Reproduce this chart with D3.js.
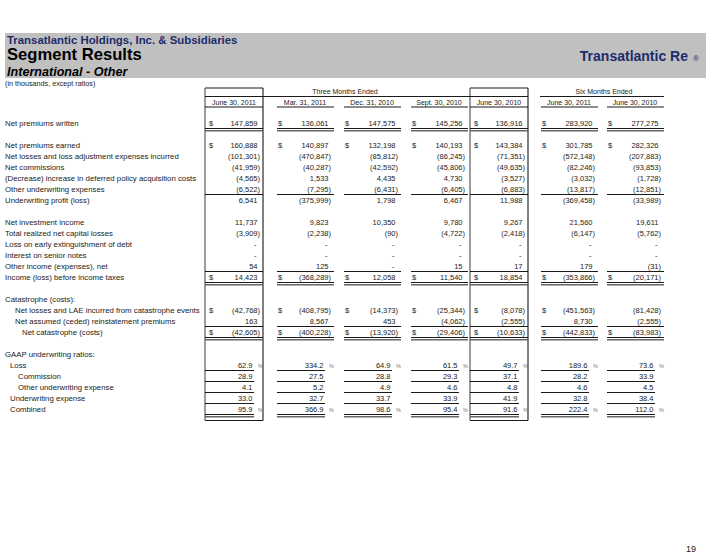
<!DOCTYPE html>
<html><head><meta charset="utf-8">
<script src="https://cdn.jsdelivr.net/npm/d3@7"></script>
<style>body{margin:0;background:#fff}svg{display:block;font-family:"Liberation Sans",Arial,sans-serif}</style>
</head><body><svg id="c" width="720" height="556"></svg>
<script>
// ---------- data ----------
const columnLabels = ["June 30, 2011","Mar. 31, 2011","Dec. 31, 2010","Sept. 30, 2010","June 30, 2010","June 30, 2011","June 30, 2010"];
const groupLabels = ["Three Months Ended","Six Months Ended"];
const rowLabels = [
  "Net premiums written","",
  "Net premiums earned","Net losses and loss adjustment expenses incurred","Net commissions",
  "(Decrease) increase in deferred policy acquisition costs","Other underwriting expenses","Underwriting profit (loss)","",
  "Net investment income","Total realized net capital losses","Loss on early extinguishment of debt",
  "Interest on senior notes","Other income (expenses), net","Income (loss) before income taxes","",
  "Catastrophe (costs):","Net losses and LAE incurred from catastrophe events",
  "Net assumed (ceded) reinstatement premiums","Net catastrophe (costs)","",
  "GAAP underwriting ratios:","Loss","Commission","Other underwriting expense","Underwriting expense","Combined"
];
const netPremiumsWritten   = [147859, 136061, 147575, 145256, 136916, 283920, 277275];
const netPremiumsEarned    = [160888, 140897, 132198, 140193, 143384, 301785, 282326];
const netLossesLAE         = [-101301, -470847, -85812, -86245, -71351, -572148, -207883];
const netCommissions       = [-41959, -40287, -42592, -45806, -49635, -82246, -93853];
const changeDeferredCosts  = [-4565, 1533, 4435, 4730, -3527, -3032, -1728];
const otherUwExpenses      = [-6522, -7295, -6431, -6405, -6883, -13817, -12851];
const underwritingProfit   = [6541, -375999, 1798, 6467, 11988, -369458, -33989];
const netInvestmentIncome  = [11737, 9823, 10350, 9780, 9267, 21560, 19611];
const realizedCapitalLoss  = [-3909, -2238, -90, -4722, -2418, -6147, -5762];
const lossEarlyExtinguish  = [null, null, null, null, null, null, null];
const interestSeniorNotes  = [null, null, null, null, null, null, null];
const otherIncome          = [54, 125, null, 15, 17, 179, -31];
const incomeBeforeTaxes    = [14423, -368289, 12058, 11540, 18854, -353866, -20171];
const catLossesLAE         = [-42768, -408795, -14373, -25344, -8078, -451563, -81428];
const reinstatementPrem    = [163, 8567, 453, -4062, -2555, 8730, -2555];
const netCatastrophe       = [-42605, -400228, -13920, -29406, -10633, -442833, -83983];
const lossRatio            = [62.9, 334.2, 64.9, 61.5, 49.7, 189.6, 73.6];
const commissionRatio      = [28.9, 27.5, 28.8, 29.3, 37.1, 28.2, 33.9];
const otherUwRatio         = [4.1, 5.2, 4.9, 4.6, 4.8, 4.6, 4.5];
const uwExpenseRatio       = [33.0, 32.7, 33.7, 33.9, 41.9, 32.8, 38.4];
const combinedRatio        = [95.9, 366.9, 98.6, 95.4, 91.6, 222.4, 112.0];

// ---------- layout ----------
const ALL = [1,1,1,1,1,1,1];
const rows = [
  {i:0, v:netPremiumsWritten, dollar:ALL, rule:"double"},
  {i:2, v:netPremiumsEarned, dollar:ALL},
  {i:3, v:netLossesLAE},
  {i:4, v:netCommissions},
  {i:5, v:changeDeferredCosts},
  {i:6, v:otherUwExpenses, rule:"single"},
  {i:7, v:underwritingProfit},
  {i:9, v:netInvestmentIncome},
  {i:10, v:realizedCapitalLoss},
  {i:11, v:lossEarlyExtinguish},
  {i:12, v:interestSeniorNotes},
  {i:13, v:otherIncome, rule:"single"},
  {i:14, v:incomeBeforeTaxes, dollar:ALL, rule:"double"},
  {i:16},
  {i:17, v:catLossesLAE, dollar:[1,1,1,1,1,1,0], indent:10},
  {i:18, v:reinstatementPrem, indent:10, rule:"single"},
  {i:19, v:netCatastrophe, dollar:ALL, indent:17, rule:"double"},
  {i:21},
  {i:22, v:lossRatio, ratio:true, pct:true, indent:5, rule:"single"},
  {i:23, v:commissionRatio, ratio:true, indent:13, rule:"single"},
  {i:24, v:otherUwRatio, ratio:true, indent:13, rule:"single"},
  {i:25, v:uwExpenseRatio, ratio:true, indent:5, rule:"single"},
  {i:26, v:combinedRatio, ratio:true, pct:true, indent:5, rule:"double"}
];

const svg = d3.select("#c");
const TEXT = "#222", NAVY = "#1d2b6b";
const LEFT = 5;
const W = 58;                 // column cell width
const boxed = [0, 4];         // columns framed by a box

const x = d3.scaleOrdinal().domain(d3.range(7)).range([205, 276, 343, 410, 470, 540, 606]);
const R = c => x(c) + W - 5.5;         // right edge of figures
const y = d3.scaleLinear().domain([0, 26]).range([126, 412]);

// header band
svg.append("rect").attr("x", LEFT).attr("y", 33).attr("width", 706 - LEFT).attr("height", 45).attr("fill", "#c0c0c0");
svg.append("text").attr("x", LEFT + 2).attr("y", 43.5).attr("fill", NAVY).attr("font-weight", "bold").attr("font-size", 11.4)
  .text("Transatlantic Holdings, Inc. & Subsidiaries");
svg.append("text").attr("x", LEFT + 2).attr("y", 60).attr("fill", "#000").attr("font-weight", "bold").attr("font-size", 16.6)
  .text("Segment Results");
svg.append("text").attr("x", LEFT + 2).attr("y", 76).attr("fill", "#000").attr("font-weight", "bold").attr("font-style", "italic").attr("font-size", 12.6)
  .text("International - Other");
svg.append("text").attr("x", 688).attr("y", 61).attr("fill", NAVY).attr("font-weight", "bold").attr("font-size", 14).attr("text-anchor", "end")
  .text("Transatlantic Re");
svg.append("text").attr("x", 693).attr("y", 61).attr("fill", NAVY).attr("font-size", 8).text("®");
svg.append("text").attr("x", LEFT).attr("y", 86).attr("fill", TEXT).attr("font-size", 7.2)
  .text("(in thousands, except ratios)");

// boxes around June 30 2011 and June 30 2010 quarter columns
const yTop = 88, yBot = y(26) + 8.5;
boxed.forEach(c => {
  const x0 = x(c), x1 = x(c) + W;
  svg.append("line").attr("x1", x0).attr("x2", x1).attr("y1", yTop).attr("y2", yTop).attr("stroke", "#000").attr("stroke-width", 0.9);
  svg.append("line").attr("x1", x0).attr("x2", x1).attr("y1", yBot).attr("y2", yBot).attr("stroke", "#000").attr("stroke-width", 0.9);
  svg.append("line").attr("x1", x0).attr("x2", x0).attr("y1", yTop).attr("y2", yBot).attr("stroke", "#666").attr("stroke-width", 1.3);
  svg.append("line").attr("x1", x1).attr("x2", x1).attr("y1", yTop).attr("y2", yBot).attr("stroke", "#000").attr("stroke-width", 1);
});

// group headers
svg.append("text").attr("x", 345).attr("y", 94).attr("text-anchor", "middle").attr("font-size", 7).attr("fill", TEXT).text(groupLabels[0]);
svg.append("line").attr("x1", x(0)).attr("x2", x(4) + W).attr("y1", 96.5).attr("y2", 96.5).attr("stroke", "#000").attr("stroke-width", 0.9);
svg.append("text").attr("x", 604).attr("y", 94).attr("text-anchor", "middle").attr("font-size", 7).attr("fill", TEXT).text(groupLabels[1]);
svg.append("line").attr("x1", x(5)).attr("x2", x(6) + W).attr("y1", 96.5).attr("y2", 96.5).attr("stroke", "#000").attr("stroke-width", 0.9);

// column headers
svg.selectAll("text.colh").data(columnLabels).join("text").attr("class", "colh")
  .attr("x", (d, i) => x(i) + W / 2).attr("y", 104.5).attr("text-anchor", "middle")
  .attr("font-size", 7).attr("fill", TEXT).text(d => d);
svg.selectAll("line.colh").data(columnLabels).join("line").attr("class", "colh")
  .attr("x1", (d, i) => x(i) + (boxed.includes(i) ? 0 : 1)).attr("x2", (d, i) => x(i) + W)
  .attr("y1", 107).attr("y2", 107).attr("stroke", "#000").attr("stroke-width", 0.9);

// row labels
svg.selectAll("text.rl").data(rows).join("text").attr("class", "rl")
  .attr("x", d => LEFT + (d.indent || 0)).attr("y", d => y(d.i))
  .attr("font-size", 7.8).attr("fill", TEXT).text(d => rowLabels[d.i]);

// values
const fInt = d3.format(","), fRat = d3.format(".1f");
const PAREN = 2.5;
const cells = [];
rows.filter(r => r.v).forEach(r => r.v.forEach((v, c) => cells.push({r, v, c})));

svg.selectAll("text.val").data(cells).join("text").attr("class", "val")
  .attr("x", d => {
    if (d.r.ratio) return R(d.c) - 5;
    if (d.v == null) return R(d.c) - 1;
    return d.v < 0 ? R(d.c) + PAREN : R(d.c);
  })
  .attr("y", d => y(d.r.i)).attr("text-anchor", "end").attr("font-size", 7.5).attr("fill", TEXT)
  .text(d => d.r.ratio ? fRat(d.v) : d.v == null ? "-" : d.v < 0 ? "(" + fInt(-d.v) + ")" : fInt(d.v));

svg.selectAll("text.dol").data(cells.filter(d => d.r.dollar && d.r.dollar[d.c])).join("text").attr("class", "dol")
  .attr("x", d => x(d.c) + (boxed.includes(d.c) ? 4 : 2)).attr("y", d => y(d.r.i)).attr("font-size", 7.5).attr("fill", TEXT).text("$");

svg.selectAll("text.pct").data(cells.filter(d => d.r.pct)).join("text").attr("class", "pct")
  .attr("x", d => R(d.c) + 0.5).attr("y", d => y(d.r.i)).attr("font-size", 5.5).attr("fill", "#777").text("%");

// rules
const ruleCells = cells.filter(d => d.r.rule);
const rx1 = d => x(d.c) + (boxed.includes(d.c) ? 0 : 1);
const rx2 = d => d.r.ratio ? R(d.c) - 3.5 : x(d.c) + W;
svg.selectAll("line.r1").data(ruleCells).join("line").attr("class", "r1")
  .attr("x1", rx1).attr("x2", rx2).attr("y1", d => y(d.r.i) + 2.5).attr("y2", d => y(d.r.i) + 2.5)
  .attr("stroke", "#000").attr("stroke-width", 0.9);
svg.selectAll("line.r2").data(ruleCells.filter(d => d.r.rule === "double")).join("line").attr("class", "r2")
  .attr("x1", rx1).attr("x2", rx2).attr("y1", d => y(d.r.i) + 4.8).attr("y2", d => y(d.r.i) + 4.8)
  .attr("stroke", "#666").attr("stroke-width", 1.6);

// page number
svg.append("text").attr("x", 696).attr("y", 552).attr("text-anchor", "end").attr("font-size", 9).attr("fill", TEXT).text("19");
</script></body></html>
